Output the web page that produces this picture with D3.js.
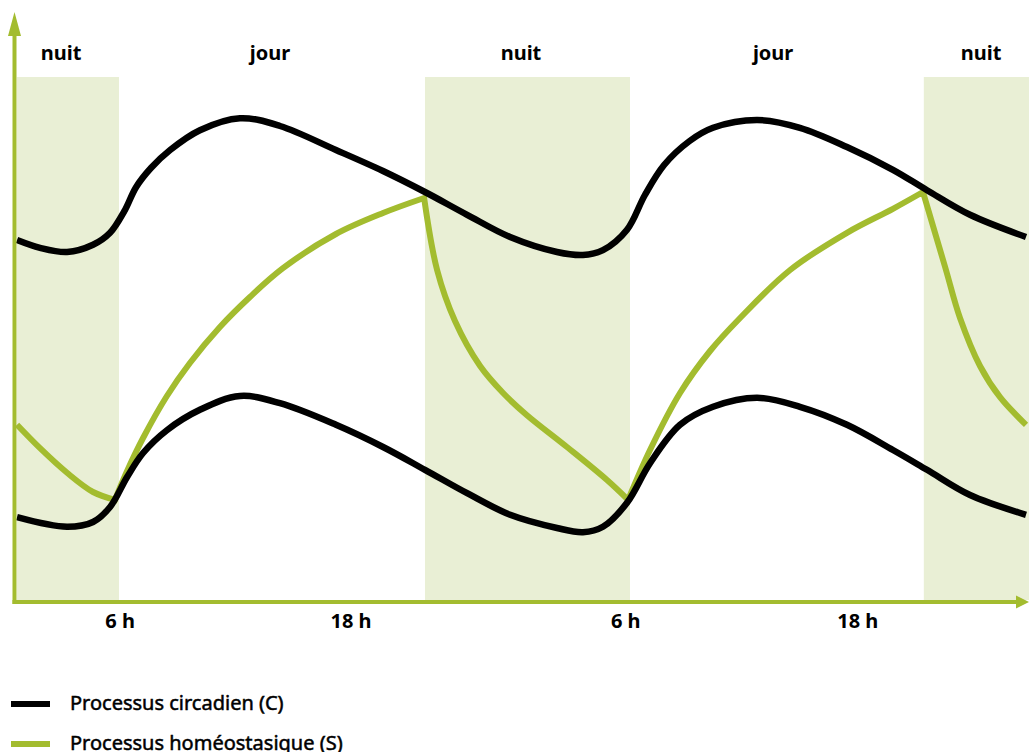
<!DOCTYPE html>
<html>
<head>
<meta charset="utf-8">
<script src="https://cdn.jsdelivr.net/npm/d3@7"></script>
<style>
  body { margin: 0; background: #fff; }
  svg { display: block; font-family: "Noto Sans", "Open Sans", sans-serif; }
</style>
</head>
<body>
<svg width="1029" height="752"></svg>
<script>
// time in hours, level in arbitrary units (0-100)

// night periods (shaded)
var nightStart = [1.2, 20.37, 43.8];
var nightEnd   = [6.0, 30.0, 48.75];

// top labels
var periodLabels = ["nuit", "jour", "nuit", "jour", "nuit"];
var periodHours  = [3.28, 13.09, 24.88, 36.72, 46.49];

// bottom tick labels
var tickLabels = ["6 h", "18 h", "6 h", "18 h"];
var tickHours  = [6.05, 16.9, 29.8, 40.7];

// circadian process C, upper threshold
var cUpperHours = [1.21, 2.29, 3.56, 4.78, 5.58, 6.25, 6.8, 7.5, 8.4, 9.80, 11.68, 13.56, 16.19, 18.40, 20.37, 22.35, 24.37, 26.57, 27.79, 28.73, 29.86, 30.7, 31.6, 32.8, 33.90, 35.97, 37.98, 40.19, 42.35, 43.95, 45.97, 48.60];
var cUpperLevel = [60.0, 58.7, 58.0, 59.2, 61.2, 64.8, 68.8, 72.0, 75.0, 78.3, 80.3, 79.0, 75.0, 71.5, 68.0, 64.2, 60.5, 58.0, 57.5, 58.3, 61.7, 67.5, 72.5, 76.5, 78.7, 80.0, 78.7, 75.5, 71.7, 68.3, 64.2, 60.5];

// circadian process C, lower threshold
var cLowerHours = [1.21, 3.56, 4.78, 5.58, 6.38, 7.13, 8.25, 9.80, 11.68, 13.56, 16.19, 18.40, 20.37, 22.35, 24.37, 26.57, 27.79, 28.73, 29.86, 30.94, 32.35, 33.90, 35.97, 37.98, 40.19, 42.35, 43.95, 45.97, 48.60];
var cLowerLevel = [13.8, 12.2, 13.0, 15.5, 20.5, 24.5, 28.3, 31.7, 34.0, 32.8, 29.2, 25.5, 21.7, 17.8, 14.2, 12.0, 11.3, 12.2, 16.2, 22.8, 29.2, 32.2, 33.7, 32.2, 29.2, 25.0, 21.7, 17.5, 14.2];

// homeostatic process S, one array per segment (rise while awake, decay while asleep)
var sHours = [
  [1.21, 2.29, 3.56, 4.78, 5.81],
  [5.81, 6.38, 7.13, 8.25, 9.33, 10.74, 12.15, 13.70, 16.19, 18.40, 20.33],
  [20.33, 20.94, 21.78, 22.96, 24.04, 25.16, 27.04, 28.92, 29.91],
  [29.91, 30.94, 32.35, 33.76, 35.17, 37.52, 40.19, 42.35, 43.76],
  [43.76, 44.80, 45.50, 46.44, 47.38, 48.60]
];
var sLevel = [
  [29.2, 25.3, 21.2, 18.0, 16.7],
  [16.7, 21.5, 27.0, 34.0, 39.5, 45.5, 50.5, 55.3, 61.0, 64.5, 67.0],
  [67.0, 55.0, 46.5, 39.0, 34.5, 30.8, 25.5, 20.0, 16.7],
  [16.7, 25.0, 34.5, 41.5, 47.0, 55.0, 61.2, 65.2, 68.0],
  [68.0, 55.5, 47.0, 39.0, 33.8, 29.2]
];

var legendLabels = ["Processus circadien (C)", "Processus homéostasique (S)"];

var GREEN = "#a3bc2f", SHADE = "#e9efd5";

var svg = d3.select("svg");

var x = d3.scaleLinear().domain([1.068, 48.74]).range([14, 1029]);
var y = d3.scaleLinear().domain([0, 100]).range([600, 0]);

var bandTop = 77;

// night shading
svg.selectAll(".night")
  .data(nightStart)
  .enter().append("rect")
  .attr("class", "night")
  .attr("x", function(d) { return x(d); })
  .attr("y", bandTop)
  .attr("width", function(d, i) { return x(nightEnd[i]) - x(d); })
  .attr("height", y(0) - bandTop)
  .attr("fill", SHADE);

// labels above
svg.selectAll(".period")
  .data(periodLabels)
  .enter().append("text")
  .attr("class", "period")
  .attr("x", function(d, i) { return x(periodHours[i]); })
  .attr("y", 60)
  .attr("text-anchor", "middle")
  .style("font-size", "20px")
  .style("font-weight", "bold")
  .text(function(d) { return d; });

var line = d3.line()
  .x(function(d) { return x(d[0]); })
  .y(function(d) { return y(d[1]); })
  .curve(d3.curveCatmullRom.alpha(0.5));

function zip(a, b) { return a.map(function(v, i) { return [v, b[i]]; }); }

// S as one continuous path, segments joined at the cusps
var sPath = sHours.map(function(h, i) {
  var p = line(zip(h, sLevel[i]));
  return i === 0 ? p : p.replace(/^M[^A-Za-z]*/, "");
}).join("");

svg.append("path")
  .attr("d", sPath)
  .attr("fill", "none")
  .attr("stroke", GREEN)
  .attr("stroke-width", 6)
  .attr("stroke-linejoin", "miter");

[zip(cUpperHours, cUpperLevel), zip(cLowerHours, cLowerLevel)].forEach(function(pts) {
  svg.append("path")
    .attr("d", line(pts))
    .attr("fill", "none")
    .attr("stroke", "#000")
    .attr("stroke-width", 6.5);
});

// axes with arrows
var x0 = 14.5, y0 = 602;
svg.append("line")
  .attr("x1", x0).attr("y1", y0 + 2).attr("x2", x0).attr("y2", 30)
  .attr("stroke", GREEN).attr("stroke-width", 4);
svg.append("path")
  .attr("d", "M" + (x0 - 6.5) + ",36L" + x0 + ",12L" + (x0 + 6.5) + ",36Z")
  .attr("fill", GREEN);
svg.append("line")
  .attr("x1", x0 - 2).attr("y1", y0).attr("x2", 1020).attr("y2", y0)
  .attr("stroke", GREEN).attr("stroke-width", 4);
svg.append("path")
  .attr("d", "M1016," + (y0 - 6.5) + "L1029," + y0 + "L1016," + (y0 + 6.5) + "Z")
  .attr("fill", GREEN);

// tick labels
svg.selectAll(".tick")
  .data(tickLabels)
  .enter().append("text")
  .attr("class", "tick")
  .attr("x", function(d, i) { return x(tickHours[i]); })
  .attr("y", 628)
  .attr("text-anchor", "middle")
  .style("font-size", "20px")
  .style("font-weight", "bold")
  .text(function(d) { return d; });

// legend
var legend = svg.selectAll(".legend")
  .data(legendLabels)
  .enter().append("g")
  .attr("class", "legend")
  .attr("transform", function(d, i) { return "translate(0," + (704 + i * 40) + ")"; });

legend.append("line")
  .attr("x1", 11).attr("x2", 50)
  .attr("stroke", function(d, i) { return i === 0 ? "#000" : GREEN; })
  .attr("stroke-width", 6);

legend.append("text")
  .attr("x", 70)
  .attr("y", 6)
  .style("font-size", "20px")
  .style("stroke", "#000")
  .style("stroke-width", 0.5)
  .text(function(d) { return d; });
</script>
</body>
</html>
